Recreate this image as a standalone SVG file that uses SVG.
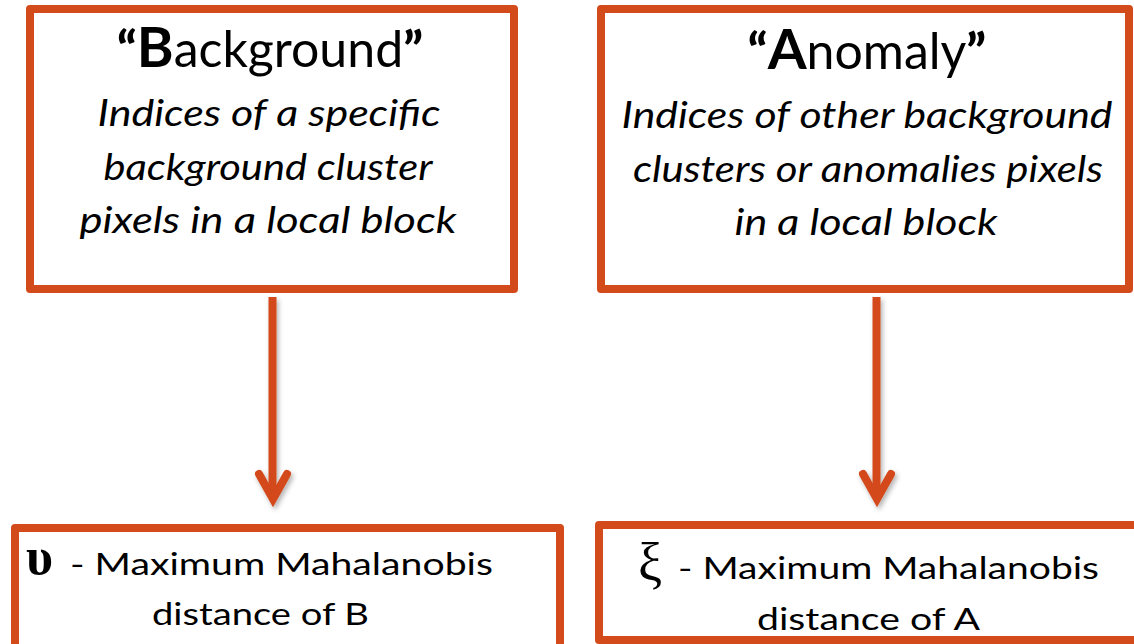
<svg xmlns="http://www.w3.org/2000/svg" width="1134" height="644" viewBox="0 0 1134 644">
  <style>
    .box { fill: #ffffff; stroke: #D34A1B; stroke-width: 8; stroke-linejoin: round; }
    .title { font-family: Lato, "Open Sans", sans-serif; font-size: 50px; fill: #000; text-anchor: middle; }
    .q { font-weight: 900; }
    .cap { font-weight: 700; font-size: 56px; }
    .desc { font-family: Lato, "Open Sans", sans-serif; font-style: italic; font-size: 36px; fill: #000; text-anchor: middle; }
    .res { font-family: Lato, "Open Sans", sans-serif; font-size: 31px; fill: #000; }
    .sym { font-family: "Liberation Serif", "DejaVu Serif", serif; fill: #000; }
    .conn { fill: none; stroke: #D34A1B; stroke-width: 8; }
  </style>
  <defs>
    <filter id="shadow" x="-50%" y="-10%" width="200%" height="130%">
      <feDropShadow dx="2" dy="3" stdDeviation="2.5" flood-color="#000" flood-opacity="0.3"/>
    </filter>
  </defs>

  <rect width="1134" height="644" fill="#ffffff"/>

  <!-- connectors: shaft plus open chevron head -->
  <g id="connectors" filter="url(#shadow)">
    <g id="edge-background">
      <line class="conn" x1="272.5" y1="297" x2="272.5" y2="497"/>
      <polyline class="conn" points="259,474 273,499 287,474" stroke-linecap="round" stroke-linejoin="miter"/>
    </g>
    <g id="edge-anomaly">
      <line class="conn" x1="876.5" y1="297" x2="876.5" y2="497"/>
      <polyline class="conn" points="863,474 877,499 891,474" stroke-linecap="round" stroke-linejoin="miter"/>
    </g>
  </g>

  <g id="node-background">
    <rect class="box" x="30" y="9" width="484" height="280"/>
    <text class="title" x="270" y="67"><tspan class="q">“</tspan><tspan class="cap">B</tspan>ackground<tspan class="q">”</tspan></text>
    <text class="desc" x="269" y="126" textLength="343" lengthAdjust="spacingAndGlyphs">Indices of a specific</text>
    <text class="desc" x="268" y="180" textLength="329" lengthAdjust="spacingAndGlyphs">background cluster</text>
    <text class="desc" x="268" y="233" textLength="377" lengthAdjust="spacingAndGlyphs">pixels in a local block</text>
  </g>

  <g id="node-anomaly">
    <rect class="box" x="601" y="9" width="528" height="280"/>
    <text class="title" x="867" y="69"><tspan class="q">“</tspan><tspan class="cap">A</tspan>nomaly<tspan class="q">”</tspan></text>
    <text class="desc" x="867" y="128" textLength="491" lengthAdjust="spacingAndGlyphs">Indices of other background</text>
    <text class="desc" x="868" y="182" textLength="470" lengthAdjust="spacingAndGlyphs">clusters or anomalies pixels</text>
    <text class="desc" x="866" y="235" textLength="263" lengthAdjust="spacingAndGlyphs">in a local block</text>
  </g>

  <g id="node-upsilon">
    <rect class="box" x="15" y="528" width="545" height="140"/>
    <text class="sym" x="26" y="574" font-size="52" font-weight="bold">υ</text>
    <text class="res" x="70" y="575" textLength="423" lengthAdjust="spacingAndGlyphs">- Maximum Mahalanobis</text>
    <text class="res" x="260.5" y="625" text-anchor="middle" textLength="217" lengthAdjust="spacingAndGlyphs">distance of B</text>
  </g>

  <g id="node-xi">
    <rect class="box" x="599" y="525" width="560" height="115"/>
    <text class="sym" x="638" y="581" font-size="54">ξ</text>
    <text class="res" x="678" y="579" textLength="421" lengthAdjust="spacingAndGlyphs">- Maximum Mahalanobis</text>
    <text class="res" x="868.5" y="630" text-anchor="middle" textLength="223" lengthAdjust="spacingAndGlyphs">distance of A</text>
  </g>
</svg>
